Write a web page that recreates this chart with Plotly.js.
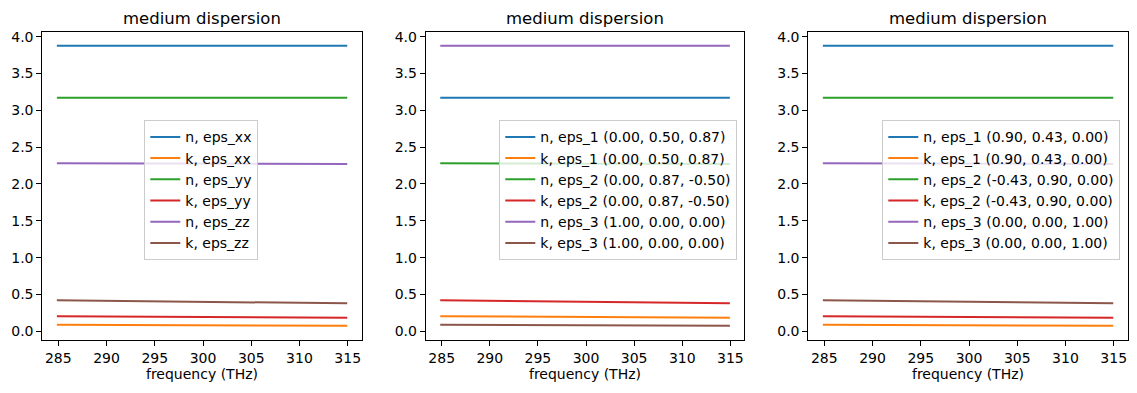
<!DOCTYPE html>
<html>
<head>
<meta charset="utf-8">
<script src="https://cdn.plot.ly/plotly-3.0.1.min.js"></script>
<style>html,body{margin:0;padding:0;background:#fff;}#chart{width:1137px;height:393px;}</style>
</head>
<body>
<div id="chart"></div>
<script>
// Frequencies (THz) at which values were read
const freq = [284.85, 300, 314.95];

// Read-off values (refractive index n and extinction k) for the three principal components
const nA = [3.877, 3.876, 3.875];
const kA = [0.088, 0.082, 0.076];
const nB = [3.171, 3.170, 3.169];
const kB = [0.205, 0.195, 0.185];
const nC = [2.281, 2.276, 2.271];
const kC = [0.420, 0.400, 0.380];

const panelTitle = "medium dispersion";
const xTitle = "frequency (THz)";
const yTicks = [0, 0.5, 1, 1.5, 2, 2.5, 3, 3.5, 4];
const xTicks = [285, 290, 295, 300, 305, 310, 315];

// Legend names per panel
const names1 = ["n, eps_xx", "k, eps_xx", "n, eps_yy", "k, eps_yy", "n, eps_zz", "k, eps_zz"];
const names2 = ["n, eps_1 (0.00, 0.50, 0.87)", "k, eps_1 (0.00, 0.50, 0.87)",
                "n, eps_2 (0.00, 0.87, -0.50)", "k, eps_2 (0.00, 0.87, -0.50)",
                "n, eps_3 (1.00, 0.00, 0.00)", "k, eps_3 (1.00, 0.00, 0.00)"];
const names3 = ["n, eps_1 (0.90, 0.43, 0.00)", "k, eps_1 (0.90, 0.43, 0.00)",
                "n, eps_2 (-0.43, 0.90, 0.00)", "k, eps_2 (-0.43, 0.90, 0.00)",
                "n, eps_3 (0.00, 0.00, 1.00)", "k, eps_3 (0.00, 0.00, 1.00)"];

// Series per panel, in legend order
const series1 = [nA, kA, nB, kB, nC, kC];
const series2 = [nB, kB, nC, kC, nA, kA];
const series3 = [nA, kA, nB, kB, nC, kC];

const colors = ["#1f77b4", "#ff7f0e", "#2ca02c", "#d62728", "#9467bd", "#8c564b"];

const W = 1137, H = 393;
const FONT = "DejaVu Sans, sans-serif";
const FS = 14;

const panels = [
  {names: names1, series: series1, left: 42.3, right: 361.7, leg: {x: 144.3, y: 120.3}},
  {names: names2, series: series2, left: 425.7, right: 744.3, leg: {x: 499.3, y: 120.3}},
  {names: names3, series: series3, left: 808.3, right: 1127.7, leg: {x: 882.3, y: 120.3}}
];
const plotTop = 32.3, plotBottom = 340.3;

const traces = [];
const layout = {
  width: W, height: H,
  margin: {l: 0, r: 0, t: 0, b: 0},
  paper_bgcolor: "#fff", plot_bgcolor: "#fff",
  font: {family: FONT, size: FS, color: "#000"},
  showlegend: true,
  annotations: []
};

panels.forEach((p, i) => {
  const sfx = i === 0 ? "" : String(i + 1);
  const legName = "legend" + (i === 0 ? "" : String(i + 1));
  p.series.forEach((vals, j) => {
    traces.push({
      type: "scatter", mode: "lines",
      x: freq, y: vals,
      name: p.names[j],
      line: {color: colors[j], width: 2},
      xaxis: "x" + sfx, yaxis: "y" + sfx,
      legend: legName
    });
  });
  const common = {
    showline: true, linecolor: "#000", linewidth: 1, mirror: true,
    showgrid: false, zeroline: false,
    ticks: "outside", ticklen: 5, tickwidth: 1, tickcolor: "#000",
    tickfont: {family: FONT, size: FS, color: "#000"}
  };
  layout["xaxis" + sfx] = Object.assign({}, common, {
    domain: [p.left / W, p.right / W],
    anchor: "y" + sfx,
    range: [283.34, 316.45],
    tickmode: "array", tickvals: xTicks, ticktext: xTicks.map(String),
    title: {text: xTitle, font: {family: FONT, size: FS, color: "#000"}, standoff: 4}
  });
  layout["yaxis" + sfx] = Object.assign({}, common, {
    domain: [1 - plotBottom / H, 1 - plotTop / H],
    anchor: "x" + sfx,
    range: [-0.122, 4.059],
    tickmode: "array", tickvals: yTicks, ticktext: yTicks.map(v => v.toFixed(1))
  });
  layout[legName] = {
    x: p.leg.x / W, y: 1 - p.leg.y / H,
    xref: "paper", yref: "paper",
    xanchor: "left", yanchor: "top",
    bgcolor: "rgba(255,255,255,0.8)",
    bordercolor: "#cccccc", borderwidth: 1,
    font: {family: FONT, size: FS, color: "#000"},
    traceorder: "normal",
    tracegroupgap: 0
  };
  layout.annotations.push({
    text: panelTitle, xref: "paper", yref: "paper",
    x: ((p.left + p.right) / 2) / W, y: 1 - 18.5 / H,
    xanchor: "center", yanchor: "middle", showarrow: false,
    font: {family: FONT, size: 16.5, color: "#000"}
  });
});

Plotly.newPlot("chart", traces, layout, {displayModeBar: false, staticPlot: true});
</script>
</body>
</html>
